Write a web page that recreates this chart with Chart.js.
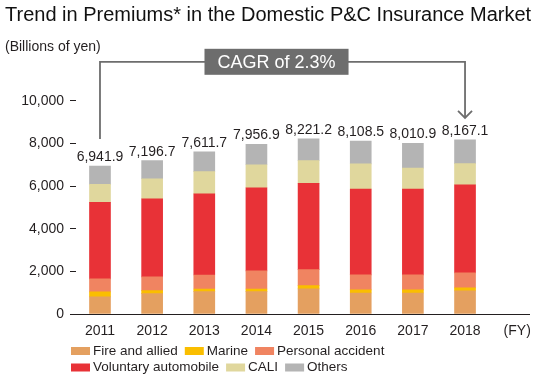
<!DOCTYPE html>
<html>
<head>
<meta charset="utf-8">
<title>Trend in Premiums</title>
<script src="https://cdn.jsdelivr.net/npm/chart.js@4.4.1/dist/chart.umd.min.js"></script>
<style>
  body { margin: 0; background: #fff; }
</style>
</head>
<body>
<canvas id="premiumChart" width="540" height="375"></canvas>
<script>
// === data (billions of yen) ===
const years = [2011, 2012, 2013, 2014, 2015, 2016, 2017, 2018];
const fireAllied = [800, 955, 1048, 1048, 1175, 987, 987, 1081];
const marine = [235, 141, 125, 125, 157, 141, 141, 141];
const personalAccident = [610, 643, 658, 846, 752, 705, 705, 705];
const voluntaryAuto = [3590, 3666, 3800, 3901, 4042, 4030, 4025, 4136];
const cali = [846, 940, 1050, 1081, 1066, 1175, 987, 987];
const others = [860, 852, 930, 956, 1030, 1070, 1166, 1117];
const totals = [6941.9, 7196.7, 7611.7, 7956.9, 8221.2, 8108.5, 8010.9, 8167.1];
const cagrText = 'CAGR of 2.3%';

const fontFamily = '"Liberation Sans", Arial, sans-serif';
const textColor = '#231f20';
Chart.defaults.font.family = fontFamily;
Chart.defaults.color = textColor;

const series = [
    { label: 'Fire and allied', data: fireAllied, color: '#e4a060' },
    { label: 'Marine', data: marine, color: '#fabe00' },
    { label: 'Personal accident', data: personalAccident, color: '#f08461' },
    { label: 'Voluntary automobile', data: voluntaryAuto, color: '#e83237' },
    { label: 'CALI', data: cali, color: '#e0d79d' },
    { label: 'Others', data: others, color: '#b4b4b4' }
];
const lastYear = years[years.length - 1];

// totals above bars, CAGR bracket and the legend
const premiumExtras = {
    id: 'premiumExtras',
    afterDatasetsDraw(chart) {
        const { ctx, chartArea, scales: { x, y } } = chart;
        ctx.save();

        ctx.font = '14px ' + fontFamily;
        ctx.fillStyle = textColor;
        ctx.textAlign = 'center';
        ctx.textBaseline = 'alphabetic';
        years.forEach((yr, i) => {
            const txt = totals[i].toLocaleString('en-US', { minimumFractionDigits: 1 });
            ctx.fillText(txt, x.getPixelForValue(yr), y.getPixelForValue(totals[i]) - 5);
        });

        const x0 = x.getPixelForValue(years[0]);
        const x1 = x.getPixelForValue(lastYear);
        const topY = chartArea.top - 39;
        const startY = y.getPixelForValue(totals[0]) - 27;
        const endY = y.getPixelForValue(totals[totals.length - 1]) - 22;
        ctx.strokeStyle = '#6d6d6d';
        ctx.lineWidth = 1.8;
        ctx.beginPath();
        ctx.moveTo(x0, startY);
        ctx.lineTo(x0, topY);
        ctx.lineTo(x1, topY);
        ctx.lineTo(x1, endY);
        ctx.stroke();
        ctx.beginPath();
        ctx.moveTo(x1 - 7, endY - 7);
        ctx.lineTo(x1, endY);
        ctx.lineTo(x1 + 7, endY - 7);
        ctx.stroke();

        ctx.font = '18px ' + fontFamily;
        const tw = ctx.measureText(cagrText).width;
        const bx = (x0 + x1) / 2 - 6;
        ctx.fillStyle = '#6d6d6d';
        ctx.fillRect(bx - tw / 2 - 13, topY - 13, tw + 26, 26);
        ctx.fillStyle = '#fff';
        ctx.textBaseline = 'middle';
        ctx.fillText(cagrText, bx, topY + 1);

        // legend, two rows of three
        ctx.font = '13.5px ' + fontFamily;
        ctx.textAlign = 'left';
        ctx.textBaseline = 'middle';
        const rows = [[0, 1, 2], [3, 4, 5]];
        rows.forEach((row, r) => {
            let lx = chartArea.left - 5;
            const ly = chartArea.bottom + 37 + r * 16.5;
            row.forEach(idx => {
                const s = series[idx];
                ctx.fillStyle = s.color;
                ctx.fillRect(lx, ly - 4, 19, 8);
                ctx.fillStyle = textColor;
                ctx.fillText(s.label, lx + 22, ly);
                lx += 22 + ctx.measureText(s.label).width + 7;
            });
        });
        ctx.restore();
    }
};

const cfg = document.getElementById('premiumChart').getContext('2d');
const premiumChart = new Chart(cfg, {
    type: 'bar',
    data: {
        labels: years,
        datasets: series.map(s => ({
            label: s.label,
            data: s.data,
            backgroundColor: s.color,
            borderWidth: 0,
            barThickness: 21
        }))
    },
    options: {
        responsive: false,
        animation: false,
        layout: { padding: { left: 5, right: 8, top: 0, bottom: 35 } },
        plugins: {
            legend: { display: false },
            tooltip: { enabled: false },
            title: {
                display: true,
                text: 'Trend in Premiums* in the Domestic P&C Insurance Market',
                align: 'start',
                color: '#111',
                font: { size: 20, weight: 'normal' },
                padding: { top: 3, bottom: 8 }
            },
            subtitle: {
                display: true,
                text: '(Billions of yen)',
                align: 'start',
                color: textColor,
                font: { size: 14 },
                padding: { top: 4, bottom: 45 }
            }
        },
        scales: {
            x: {
                type: 'linear',
                stacked: true,
                bounds: 'data',
                offset: false,
                min: years[0] - 0.46,
                max: lastYear + 1.23,
                grid: { drawOnChartArea: false, drawTicks: false },
                border: { display: true, color: textColor, width: 1 },
                afterBuildTicks: scale => {
                    scale.ticks = years.concat(lastYear + 1).map(v => ({ value: v }));
                },
                ticks: {
                    padding: 9,
                    font: { size: 14 },
                    callback: v => v > lastYear ? '(FY)' : String(v)
                },
                afterFit: scale => { scale.height = 26; }
            },
            y: {
                stacked: true,
                min: 0,
                max: 10000,
                grid: { drawOnChartArea: false, tickLength: 6, color: textColor },
                border: { display: false },
                ticks: {
                    stepSize: 2000,
                    padding: 6,
                    font: { size: 14 },
                    callback: v => v.toLocaleString('en-US')
                },
                afterFit: scale => { scale.width = 71; }
            }
        }
    },
    plugins: [premiumExtras]
});
</script>
</body>
</html>
